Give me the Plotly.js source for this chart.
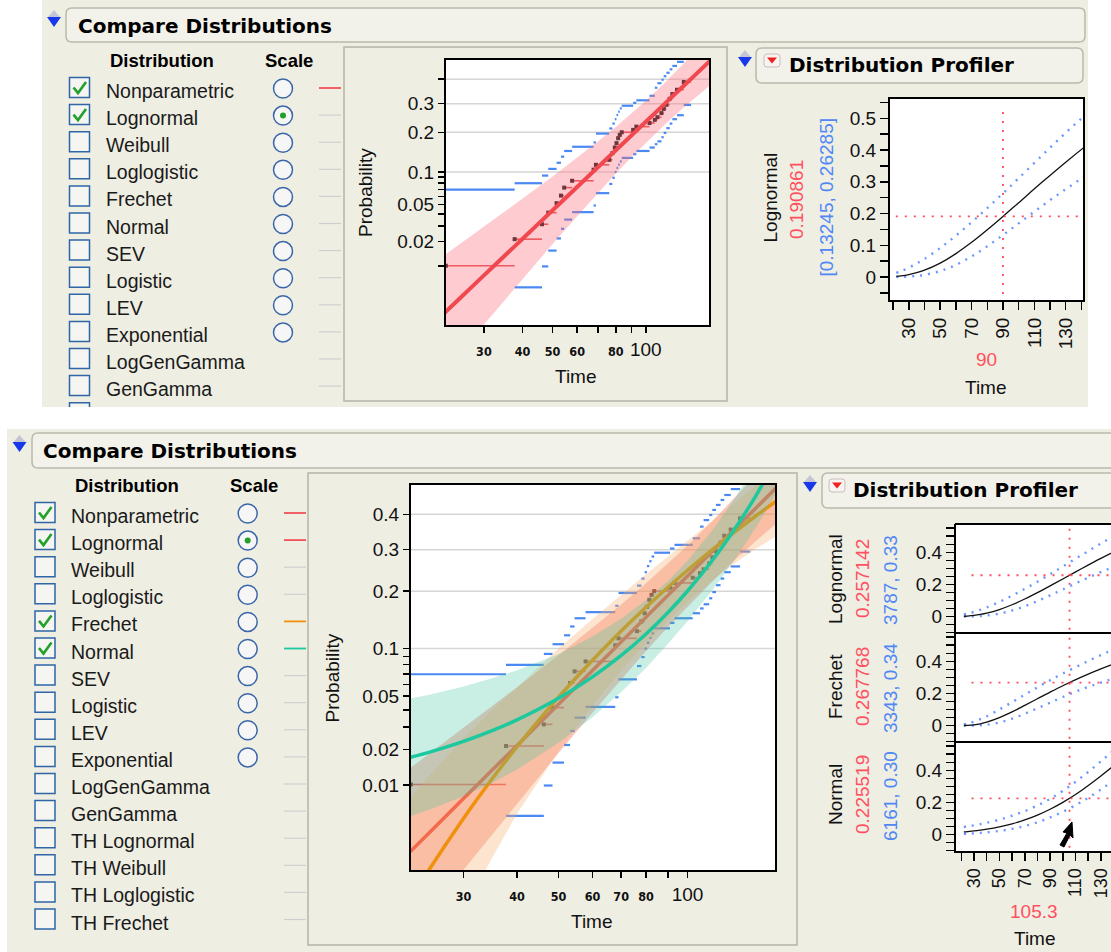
<!DOCTYPE html>
<html><head><meta charset="utf-8">
<script src="https://cdn.plot.ly/plotly-3.0.1.min.js"></script>
<style>html,body{margin:0;padding:0;background:#fff}#chart{width:1111px;height:952px}</style>
</head><body><div id="chart"></div>
<script>
// ================= DATA =================
// Time grid at which the fitted curves / confidence limits were read
const fitTime = [22, 25, 30, 35, 40, 50, 60, 70, 80, 90, 100, 115, 130, 145, 165];
// Lognormal fit: probability, upper and lower confidence limit
const lognormalProb  = [0.00205, 0.00358, 0.00755, 0.01348, 0.0215, 0.0439, 0.0737, 0.1093, 0.149, 0.191, 0.2342, 0.2991, 0.362, 0.4211, 0.4936];
const lognormalUpper = [0.01314, 0.0185, 0.0294, 0.0424, 0.0573, 0.0914, 0.1303, 0.1726, 0.2171, 0.2637, 0.3114, 0.3836, 0.4546, 0.5215, 0.6026];
const lognormalLower = [0.000217, 0.000497, 0.00149, 0.00347, 0.0068, 0.0187, 0.0381, 0.0648, 0.0968, 0.1322, 0.169, 0.2242, 0.2769, 0.3256, 0.3851];
// Frechet fit
const frechetProb  = [0.00055, 0.00149, 0.00491, 0.01134, 0.02102, 0.0491, 0.0853, 0.1257, 0.1673, 0.2084, 0.2478, 0.3028, 0.3525, 0.3972, 0.4493];
const frechetUpper = [0.00687, 0.01218, 0.02449, 0.0399, 0.0572, 0.1002, 0.1456, 0.1925, 0.2381, 0.2822, 0.3238, 0.3826, 0.4386, 0.4889, 0.5479];
const frechetLower = [0.0000122, 0.000067, 0.00049, 0.00197, 0.00544, 0.0193, 0.0431, 0.0735, 0.1077, 0.143, 0.1779, 0.2264, 0.2674, 0.3037, 0.3451];
// Normal fit
const normalProb  = [0.01686, 0.01904, 0.0232, 0.0281, 0.0338, 0.0482, 0.067, 0.0911, 0.1211, 0.1575, 0.2003, 0.2763, 0.3643, 0.46, 0.5904];
const normalUpper = [0.0476, 0.0511, 0.058, 0.0656, 0.0739, 0.0929, 0.1173, 0.146, 0.1816, 0.2222, 0.2714, 0.358, 0.4554, 0.5575, 0.6874];
const normalLower = [0.00496, 0.00597, 0.00794, 0.01046, 0.01365, 0.0226, 0.0353, 0.0533, 0.0764, 0.1066, 0.1418, 0.205, 0.2803, 0.3649, 0.4875];

// Nonparametric estimate: step i runs from npTime[i] to npTime[i+1]
const npTime  = [22.6, 37.7, 46.2, 48.4, 51.5, 53.2, 54.5, 57.8, 67.8, 69.0, 76.2, 78.0, 79.4, 80.4, 81.4, 82.4, 83.6, 91.0, 93.2, 102.8, 106.9, 109.0, 112.3, 114.2, 116.5, 119.4, 121.8, 126.1, 132.6, 140.0];
const npProb  = [0.0101, 0.0213, 0.0313, 0.0415, 0.0517, 0.0612, 0.0727, 0.0838, 0.1045, 0.1145, 0.1255, 0.1415, 0.156, 0.168, 0.182, 0.192, 0.200, 0.2075, 0.218, 0.230, 0.2407, 0.250, 0.2646, 0.280, 0.2956, 0.319, 0.338, 0.3556, 0.388];
const npUpper = [0.0697, 0.0797, 0.093, 0.106, 0.119, 0.133, 0.147, 0.158, 0.170, 0.196, 0.212, 0.228, 0.243, 0.258, 0.270, 0.282, 0.292, 0.303, 0.313, 0.331, 0.364, 0.383, 0.398, 0.413, 0.428, 0.443, 0.458, 0.476, 0.495];
const npLower = [null, 0.0052, 0.0099, 0.0156, 0.0217, 0.0279, 0.0351, 0.042, 0.049, 0.0646, 0.0785, 0.089, 0.100, 0.108, 0.115, 0.122, 0.130, 0.139, 0.147, 0.156, 0.165, 0.173, 0.185, 0.198, 0.213, 0.228, 0.243, 0.257, 0.295];

// Axis ticks
const probTickVals = [0.4, 0.3, 0.2, 0.1, 0.09, 0.08, 0.07, 0.06, 0.05, 0.04, 0.03, 0.02, 0.01];
const probTickTextTop    = ['', '0.3', '0.2', '0.1', '', '', '', '', '0.05', '', '', '0.02', ''];
const probTickTextBottom = ['0.4', '0.3', '0.2', '0.1', '', '', '', '', '0.05', '', '', '0.02', '0.01'];
const probGrid = [0.4, 0.3, 0.2, 0.1];
const timeTickVals = [30, 40, 50, 60, 70, 80, 90, 100];
const timeTickTextTop    = ['30', '40', '50', '60', '', '80', '', '100'];
const timeTickTextBottom = ['30', '40', '50', '60', '70', '80', '', '100'];
const timeGrid = [100];

// Profiler readouts
const profTop = {dist: 'Lognormal', time: 90, value: 0.190861, interval: '[0.13245, 0.26285]'};
const profBottomTime = 105.3;
const profBottomDists = ['Lognormal', 'Frechet', 'Normal'];
const profBottomValues = [0.257142, 0.267768, 0.225519];
const profBottomIntervals = ['3787, 0.33', '3343, 0.34', '6161, 0.30'];

// Distribution lists
const topDistributions = ['Nonparametric','Lognormal','Weibull','Loglogistic','Frechet','Normal','SEV','Logistic','LEV','Exponential','LogGenGamma','GenGamma'];
const topChecked = ['Nonparametric','Lognormal'];
const topLegendColored = {'Nonparametric': '#f0505a'};
const bottomDistributions = ['Nonparametric','Lognormal','Weibull','Loglogistic','Frechet','Normal','SEV','Logistic','LEV','Exponential','LogGenGamma','GenGamma','TH Lognormal','TH Weibull','TH Loglogistic','TH Frechet'];
const bottomChecked = ['Nonparametric','Lognormal','Frechet','Normal'];
const bottomLegendColored = {'Nonparametric': '#f0505a', 'Lognormal': '#f0505a', 'Frechet': '#f0900c', 'Normal': '#1cc89e'};
const radioCount = 10;
const scaleSelected = 'Lognormal';

// ================= helpers =================
const W = 1111, H = 952;
const X = v => v / W, Y = v => 1 - v / H;
function invNorm(p) {
  if (p == null) return null;
  const a=[-3.969683028665376e+01,2.209460984245205e+02,-2.759285104469687e+02,1.383577518672690e+02,-3.066479806614716e+01,2.506628277459239e+00];
  const b=[-5.447609879822406e+01,1.615858368580409e+02,-1.556989798598866e+02,6.680131188771972e+01,-1.328068155288572e+01];
  const c=[-7.784894002430293e-03,-3.223964580411365e-01,-2.400758277161838e+00,-2.549732539343734e+00,4.374664141464968e+00,2.938163982698783e+00];
  const d=[7.784695709041462e-03,3.224671290700398e-01,2.445134137142996e+00,3.754408661907416e+00];
  const pl = 0.02425, ph = 1 - pl; let q, r;
  if (p < pl) { q = Math.sqrt(-2*Math.log(p)); return (((((c[0]*q+c[1])*q+c[2])*q+c[3])*q+c[4])*q+c[5])/((((d[0]*q+d[1])*q+d[2])*q+d[3])*q+1); }
  if (p <= ph) { q = p - 0.5; r = q*q; return (((((a[0]*r+a[1])*r+a[2])*r+a[3])*r+a[4])*r+a[5])*q/(((((b[0]*r+b[1])*r+b[2])*r+b[3])*r+b[4])*r+1); }
  q = Math.sqrt(-2*Math.log(1-p)); return -(((((c[0]*q+c[1])*q+c[2])*q+c[3])*q+c[4])*q+c[5])/((((d[0]*q+d[1])*q+d[2])*q+d[3])*q+1);
}
const Z = arr => arr.map(invNorm);
function steps(levels) {
  const xs = [], ys = [];
  levels.forEach((v, i) => { if (v == null) return; xs.push(npTime[i], npTime[i+1], null); ys.push(invNorm(v), invNorm(v), null); });
  return {xs, ys};
}
const FONT = 'Liberation Sans, Arial, sans-serif';
const tickFont = {family: FONT, size: 19, color: '#111'};
const smallTick = t => t === '' ? '' : (t === '100' ? t : '<span style="font-size:12.5px;font-weight:bold;font-family:DejaVu Sans Condensed,DejaVu Sans,sans-serif">' + t + '</span>');

// ================= traces =================
const traces = [];
function addProbPlot(xa, ya, dists, lineW) {
  const s = steps(npProb), su = steps(npUpper), sl = steps(npLower);
  traces.push({x: su.xs, y: su.ys, xaxis: xa, yaxis: ya, mode: 'lines', line: {color: '#4a88f2', width: 2.2}, hoverinfo: 'skip'});
  traces.push({x: sl.xs, y: sl.ys, xaxis: xa, yaxis: ya, mode: 'lines', line: {color: '#4a88f2', width: 2.2}, hoverinfo: 'skip'});
  traces.push({x: s.xs, y: s.ys, xaxis: xa, yaxis: ya, mode: 'lines', line: {color: '#e84a50', width: 1.6}, hoverinfo: 'skip'});
  traces.push({x: npTime.slice(0, npProb.length), y: Z(npProb), xaxis: xa, yaxis: ya, mode: 'markers', marker: {symbol: 'square', size: 4, color: '#221515'}, hoverinfo: 'skip'});
  dists.forEach(d => {
    traces.push({x: fitTime.concat(fitTime.slice().reverse()), y: Z(d.up).concat(Z(d.lo).reverse()), xaxis: xa, yaxis: ya, mode: 'lines', fill: 'toself', fillcolor: d.band, line: {width: 0}, hoverinfo: 'skip'});
    traces.push({x: fitTime, y: Z(d.p), xaxis: xa, yaxis: ya, mode: 'lines', line: {color: d.color, width: lineW, shape: 'spline', smoothing: 0.8}, hoverinfo: 'skip'});
  });
}
addProbPlot('x', 'y', [{p: lognormalProb, up: lognormalUpper, lo: lognormalLower, band: 'rgba(250,110,125,0.36)', color: '#f0484e'}], 4);
addProbPlot('x3', 'y3', [
  {p: lognormalProb, up: lognormalUpper, lo: lognormalLower, band: 'rgba(242,112,92,0.40)', color: '#f04a3c'},
  {p: frechetProb, up: frechetUpper, lo: frechetLower, band: 'rgba(250,172,108,0.33)', color: '#f0900c'},
  {p: normalProb, up: normalUpper, lo: normalLower, band: 'rgba(60,196,160,0.28)', color: '#1cc89e'}
], 3.5);

function addProfile(xa, ya, p, up, lo) {
  traces.push({x: fitTime, y: up, xaxis: xa, yaxis: ya, mode: 'lines', line: {color: '#6a98ff', width: 2.4, dash: '2px,6px', shape: 'spline'}, hoverinfo: 'skip'});
  traces.push({x: fitTime, y: lo, xaxis: xa, yaxis: ya, mode: 'lines', line: {color: '#6a98ff', width: 2.4, dash: '2px,6px', shape: 'spline'}, hoverinfo: 'skip'});
  traces.push({x: fitTime, y: p, xaxis: xa, yaxis: ya, mode: 'lines', line: {color: '#111', width: 1.3, shape: 'spline'}, hoverinfo: 'skip'});
}
addProfile('x2', 'y2', lognormalProb, lognormalUpper, lognormalLower);
addProfile('x4', 'y4', lognormalProb, lognormalUpper, lognormalLower);
addProfile('x5', 'y5', frechetProb, frechetUpper, frechetLower);
addProfile('x6', 'y6', normalProb, normalUpper, normalLower);

// ================= axes =================
function probX(dom, labels, anchor) {
  return {type: 'log', domain: dom, range: [1.3547, 2.204], anchor, tickmode: 'array', tickvals: timeTickVals, ticktext: labels.map(smallTick),
    ticks: 'outside', ticklen: 6, tickwidth: 1.5, tickcolor: '#000', showline: true, mirror: true, linecolor: '#000', linewidth: 2,
    showgrid: false, zeroline: false, tickfont: tickFont, fixedrange: true};
}
function probY(dom, labels, anchor, range) {
  return {domain: dom, range, anchor, tickmode: 'array', tickvals: Z(probTickVals), ticktext: labels,
    ticks: 'outside', ticklen: 6, tickwidth: 1.5, tickcolor: '#000', showline: true, mirror: true, linecolor: '#000', linewidth: 2,
    showgrid: false, zeroline: false, tickfont: tickFont, fixedrange: true};
}
function profX(dom, range, anchor, labels, fsize) {
  return {domain: dom, range, anchor, tickmode: 'linear', tick0: 30, dtick: 20, ticks: labels ? 'outside' : '', ticklen: 8, tickwidth: 1.5, tickcolor: '#000',
    minor: labels ? {dtick: 10, tick0: 30, ticks: 'outside', ticklen: 8, tickwidth: 1.5, tickcolor: '#000'} : undefined,
    showticklabels: labels, tickangle: -90, ticklabeloverflow: 'allow', showline: labels, linecolor: '#000', linewidth: 2, showgrid: false, zeroline: false,
    tickfont: {family: FONT, size: fsize || 19, color: '#111'}, fixedrange: true};
}
function profY(dom, range, anchor, dtick) {
  return {domain: dom, range, anchor, tickmode: 'linear', tick0: 0, dtick, ticks: 'outside', ticklen: 8, tickwidth: 1.5, tickcolor: '#000',
    minor: {dtick: 0.05, tick0: 0, ticks: 'outside', ticklen: 8, tickwidth: 1.5, tickcolor: '#000'},
    showline: true, linecolor: '#000', linewidth: 2, showgrid: false, zeroline: false, tickfont: tickFont, fixedrange: true};
}
const rowY = [[524, 633], [633, 742], [742, 851]];
const bottomProfRange = [15.8, 138];
const layout = {
  width: W, height: H, margin: {l: 0, r: 0, t: 0, b: 0}, paper_bgcolor: '#efeee3', plot_bgcolor: '#ffffff', showlegend: false,
  xaxis: probX([X(446), X(709)], timeTickTextTop, 'y'),
  yaxis: probY([Y(325), Y(60)], probTickTextTop, 'x', [-2.98, -0.04]),
  xaxis3: probX([X(411), X(775)], timeTickTextBottom, 'y3'),
  yaxis3: probY([Y(870), Y(485)], probTickTextBottom, 'x3', [-2.977, -0.029]),
  xaxis2: Object.assign(profX([X(890), X(1083)], [18, 141], 'y2', true), {mirror: true}),
  yaxis2: Object.assign(profY([Y(300), Y(99)], [-0.0725, 0.561], 'x2', 0.1), {mirror: true}),
  xaxis4: profX([X(956), 1], bottomProfRange, 'y4', false),
  yaxis4: profY([Y(rowY[0][1]), Y(rowY[0][0])], [-0.102, 0.576], 'x4', 0.2),
  xaxis5: profX([X(956), 1], bottomProfRange, 'y5', false),
  yaxis5: profY([Y(rowY[1][1]), Y(rowY[1][0])], [-0.102, 0.576], 'x5', 0.2),
  xaxis6: profX([X(956), 1], bottomProfRange, 'y6', true, 18),
  yaxis6: profY([Y(rowY[2][1]), Y(rowY[2][0])], [-0.102, 0.576], 'x6', 0.2),
  shapes: [], annotations: []
};
const S = layout.shapes, A = layout.annotations;

// grid lines inside the probability plots
[['x', 'y'], ['x3', 'y3']].forEach(([xa, ya]) => {
  probGrid.forEach(p => S.push({type: 'line', xref: xa + ' domain', yref: ya, x0: 0, x1: 1, y0: invNorm(p), y1: invNorm(p), line: {color: '#d6d6d6', width: 1.5}, layer: 'below'}));
  timeGrid.forEach(t => S.push({type: 'line', xref: xa, yref: ya + ' domain', x0: Math.log10(t), x1: Math.log10(t), y0: 0, y1: 1, line: {color: '#d6d6d6', width: 1.5}, layer: 'below'}));
});
// profiler cross-hairs
const redDot = {color: '#ff4a5a', width: 1.8, dash: '2px,7px'};
S.push({type: 'line', xref: 'x2', yref: 'y2 domain', x0: profTop.time, x1: profTop.time, y0: 0.03, y1: 0.97, line: redDot});
S.push({type: 'line', xref: 'x2 domain', yref: 'y2', x0: 0.03, x1: 1, y0: profTop.value, y1: profTop.value, line: redDot});
profBottomValues.forEach((v, i) => {
  const xa = 'x' + (4 + i), ya = 'y' + (4 + i);
  S.push({type: 'line', xref: xa, yref: ya + ' domain', x0: profBottomTime, x1: profBottomTime, y0: 0.03, y1: 0.97, line: redDot});
  S.push({type: 'line', xref: xa + ' domain', yref: ya, x0: 0.1, x1: 1, y0: v, y1: v, line: redDot});
});

// ---- paper decorations ----
function P(x0, y0, x1, y1, opt) { S.push(Object.assign({type: 'rect', xref: 'paper', yref: 'paper', x0: X(x0), x1: X(x1), y0: Y(y1), y1: Y(y0), layer: 'below'}, opt)); }
function path(pts, opt) { S.push(Object.assign({type: 'path', xref: 'paper', yref: 'paper', path: pts, layer: 'below'}, opt)); }
function rr(x0, y0, x1, y1, r) {
  return `M${X(x0+r)},${Y(y0)} L${X(x1-r)},${Y(y0)} Q${X(x1)},${Y(y0)} ${X(x1)},${Y(y0+r)} L${X(x1)},${Y(y1-r)} Q${X(x1)},${Y(y1)} ${X(x1-r)},${Y(y1)} L${X(x0+r)},${Y(y1)} Q${X(x0)},${Y(y1)} ${X(x0)},${Y(y1-r)} L${X(x0)},${Y(y0+r)} Q${X(x0)},${Y(y0)} ${X(x0+r)},${Y(y0)} Z`;
}
function poly(pts) { return pts.map((p, i) => (i ? 'L' : 'M') + X(p[0]) + ',' + Y(p[1])).join(' ') + ' Z'; }
function ann(text, x, y, o) { A.push(Object.assign({text, x: X(x), y: Y(y), xref: 'paper', yref: 'paper', showarrow: false, xanchor: 'center', yanchor: 'middle', font: {family: FONT, size: 19, color: '#111'}}, o || {})); }
function discIcon(cx, top) {
  path(poly([[cx-6, top+7], [cx, top], [cx+6, top+7]]), {fillcolor: '#c4c6d6', line: {width: 0}});
  path(poly([[cx-7, top+7], [cx+7, top+7], [cx, top+17]]), {fillcolor: '#1838ea', line: {width: 0}});
}
function redBtn(x0, y0) {
  path(rr(x0, y0, x0+16, y0+13, 3), {fillcolor: '#f7f3f0', line: {color: '#c9bcbc', width: 1}});
  path(poly([[x0+3, y0+3.5], [x0+13, y0+3.5], [x0+8, y0+9.5]]), {fillcolor: '#ee2020', line: {width: 0}});
}
function header(x0, y0, x1, y1) {
  path(rr(x0, y0, x1, y1, 6), {fillcolor: '#f3f2ea', line: {color: '#b9b9ac', width: 1.5}});
}
const headFont = {family: 'DejaVu Sans, sans-serif', size: 20, color: '#000', weight: 'bold'};
// headers
header(66, 8, 1085, 42); discIcon(54, 10);
ann('Compare Distributions', 76, 25.5, {xanchor: 'left', font: headFont});
header(756, 48, 1083, 83); discIcon(745, 50); redBtn(764, 54);
ann('Distribution Profiler', 787, 65.5, {xanchor: 'left', font: headFont});
header(32, 433, 1130, 468); discIcon(19.5, 435);
ann('Compare Distributions', 41, 450.5, {xanchor: 'left', font: headFont});
header(822, 473, 1130, 508); discIcon(810, 475); redBtn(829, 479);
ann('Distribution Profiler', 851, 490.5, {xanchor: 'left', font: headFont});
// plot containers
P(344, 47, 727, 401, {line: {color: '#b4b4a8', width: 1.5}});
P(308, 473, 797, 945, {line: {color: '#b4b4a8', width: 1.5}});

// distribution lists
function list(names, checked, colored, cfg) {
  ann('Distribution', cfg.distX, cfg.headY, {font: {family: FONT, size: 18.5, color: '#000', weight: 'bold'}});
  ann('Scale', cfg.scaleX, cfg.headY, {font: {family: FONT, size: 18.5, color: '#000', weight: 'bold'}});
  const total = names.length + (cfg.extraBox ? 1 : 0);
  for (let i = 0; i < total; i++) {
    const yc = cfg.y0 + i * 27.1;
    const bx = cfg.boxX, by = yc - 13.5;
    P(bx, by, bx + 20, by + 20, {fillcolor: '#f5f5f1', line: {color: '#2e66a6', width: 1.5}});
    if (i >= names.length) continue;
    const name = names[i];
    if (checked.includes(name)) path(`M${X(bx+4)},${Y(by+10)} L${X(bx+8.5)},${Y(by+15.5)} L${X(bx+16.5)},${Y(by+4.5)}`, {line: {color: '#22a02a', width: 2.6}});
    ann(name, cfg.textX, yc, {xanchor: 'left', font: {family: FONT, size: 19.5, color: '#1a1a1a'}});
    if (i < radioCount) {
      const cx = cfg.radioX, cy = yc - 2.5, r = 9.5;
      S.push({type: 'circle', xref: 'paper', yref: 'paper', x0: X(cx-r), x1: X(cx+r), y0: Y(cy+r), y1: Y(cy-r), fillcolor: '#f6f6f6', line: {color: '#3a66a8', width: 1.5}, layer: 'below'});
      if (name === scaleSelected) S.push({type: 'circle', xref: 'paper', yref: 'paper', x0: X(cx-3), x1: X(cx+3), y0: Y(cy+3), y1: Y(cy-3), fillcolor: '#22a02a', line: {width: 0}, layer: 'below'});
    }
    const col = colored[name];
    S.push({type: 'line', xref: 'paper', yref: 'paper', x0: X(cfg.lineX0), x1: X(cfg.lineX1), y0: Y(yc - 3), y1: Y(yc - 3), line: col ? {color: col, width: 1.8} : {color: '#cfcfcf', width: 1.2}, layer: 'below'});
  }
}
list(topDistributions, topChecked, topLegendColored, {distX: 162, scaleX: 289, headY: 61, y0: 91, boxX: 69.5, textX: 104, radioX: 283, lineX0: 319, lineX1: 341, extraBox: true});
list(bottomDistributions, bottomChecked, bottomLegendColored, {distX: 127, scaleX: 254, headY: 486, y0: 516, boxX: 35, textX: 69, radioX: 247.7, lineX0: 284, lineX1: 306, extraBox: false});

// white surroundings of the panels
P(0, 0, 42, 407, {fillcolor: '#ffffff', line: {width: 0}});
P(1088, 0, 1111, 407, {fillcolor: '#ffffff', line: {width: 0}});
P(0, 407, 1111, 429, {fillcolor: '#ffffff', line: {width: 0}});
P(0, 429, 7, 952, {fillcolor: '#ffffff', line: {width: 0}});

// bottom profiler frame (runs off the right edge)
[524, 633, 742].forEach(y => S.push({type: 'line', xref: 'paper', yref: 'paper', x0: X(955), x1: 1, y0: Y(y), y1: Y(y), line: {color: '#000', width: 2}}));

// mouse cursor
path(poly([[1072, 822], [1063, 832], [1067, 833], [1060, 845], [1064, 847], [1070, 835], [1073, 838]]), {fillcolor: '#000', line: {color: '#000', width: 1}, layer: 'above'});

// axis titles and profiler readouts
ann('Probability', 366, 193, {textangle: -90});
ann('Time', 576, 377);
ann('Probability', 331.5, 678, {textangle: -90});
ann('Time', 592, 921.5);
ann(profTop.dist, 769.5, 198, {textangle: -90});
ann(String(profTop.value), 796, 200, {textangle: -90, font: {family: FONT, size: 19, color: '#ff5060'}});
ann(profTop.interval, 825.5, 198, {textangle: -90, font: {family: FONT, size: 19, color: '#4f88f5'}});
ann(String(profTop.time), 986, 359, {font: {family: FONT, size: 19, color: '#ff5060'}});
ann('Time', 986, 387);
const rowCenters = [579, 687, 795];
profBottomDists.forEach((d, i) => {
  ann(d, 835, rowCenters[i], {textangle: -90});
  ann(String(profBottomValues[i]), 862, rowCenters[i], {textangle: -90, font: {family: FONT, size: 19, color: '#ff5060'}});
  ann(profBottomIntervals[i], 890, rowCenters[i] + 1, {textangle: -90, font: {family: FONT, size: 19, color: '#4f88f5'}});
});
ann(String(profBottomTime), 1034, 911, {font: {family: FONT, size: 19, color: '#ff5060'}});
ann('Time', 1035, 938);

Plotly.newPlot('chart', traces, layout, {staticPlot: true, displayModeBar: false});
</script>
</body></html>
